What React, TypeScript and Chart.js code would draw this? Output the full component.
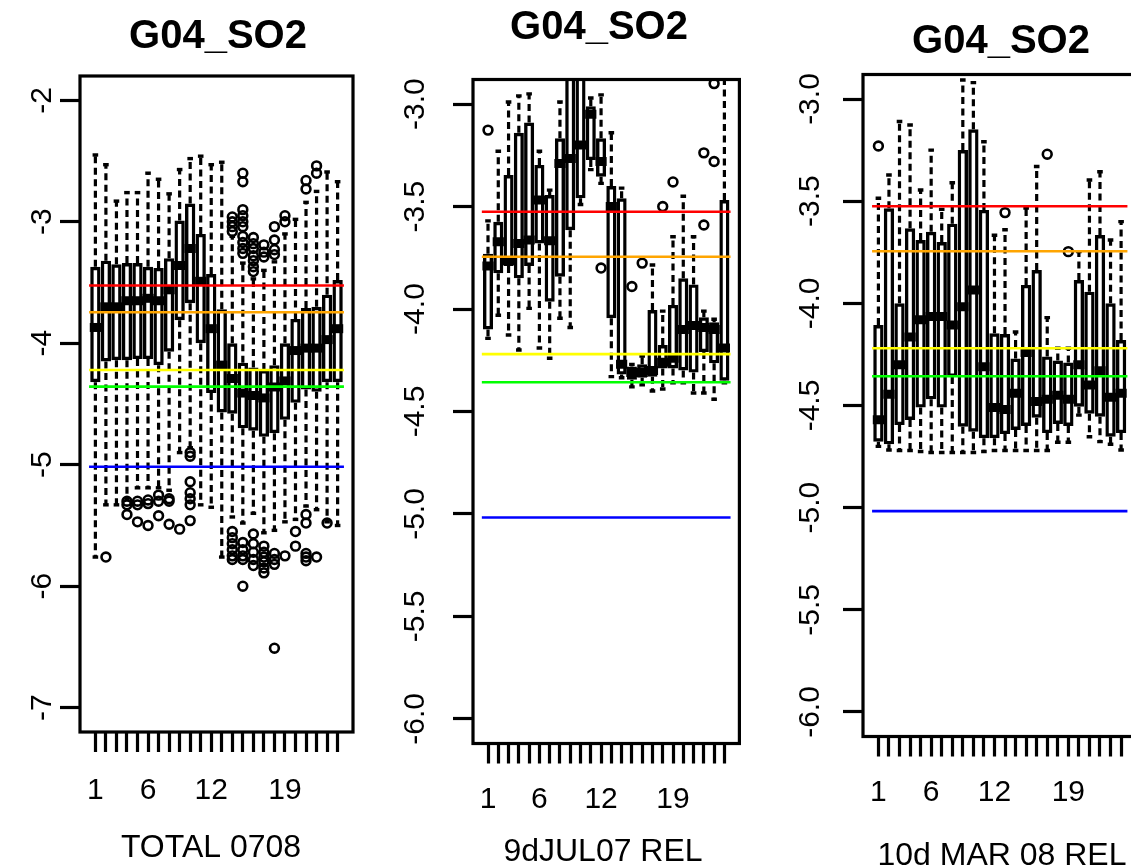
import React, { useEffect, useRef } from 'react';
import { Chart, registerables } from 'chart.js';

Chart.register(...registerables);

const FONT_FAMILY = "'Liberation Sans', Arial, Helvetica, sans-serif";
const CANVAS_H = 880;

// ---------- shared data ----------
const boxIndex = [1, 2, 3, 4, 5, 6, 7, 8, 9, 10, 11, 12, 13, 14, 15, 16, 17, 18, 19, 20, 21, 22, 23, 24];
const xLabelled = [1, 6, 12, 19];
const xLimits = [0.5, 24.5];
const refLevels = [-3.525, -3.745, -4.22, -4.357, -5.017];
const refColors = ['#ff0000', '#ffa500', '#ffff00', '#00ff00', '#0000ff'];
const refSpan = [0.4, 24.6];
const titles = ['G04_SO2', 'G04_SO2', 'G04_SO2'];
const xTitles = ['TOTAL 0708', '9dJUL07 REL', '10d MAR 08 REL'];
const yTicksTotal = [-2, -3, -4, -5, -6, -7];
const yTicksRel = [-3.0, -3.5, -4.0, -4.5, -5.0, -5.5, -6.0];
const ylimTotal = [-7, -2];
const ylimRel = [-6, -3];

// ---------- panel 1: TOTAL 0708 ----------
const totHi = [-2.45, -2.53, -2.83, -2.76, -2.76, -2.6, -2.65, -2.77, -2.57, -2.48, -2.46, -2.53, -2.51, -3.12, -3.34, -3.47, -3.4, -3.33, -3.1, -2.98, -2.84, -2.75, -2.59, -2.67];
const totQ3 = [-3.37, -3.32, -3.35, -3.34, -3.34, -3.37, -3.38, -3.3, -2.99, -2.85, -3.1, -3.43, -3.72, -4.0, -4.16, -4.2, -4.22, -4.18, -4.0, -3.8, -3.71, -3.7, -3.6, -3.48];
const totMed = [-3.87, -3.7, -3.7, -3.65, -3.65, -3.63, -3.65, -3.56, -3.36, -3.22, -3.49, -3.88, -4.18, -4.29, -4.41, -4.43, -4.45, -4.36, -4.31, -4.06, -4.04, -4.04, -3.97, -3.88];
const totQ1 = [-4.32, -4.15, -4.14, -4.14, -4.13, -4.13, -4.18, -4.07, -3.81, -3.67, -4.0, -4.41, -4.57, -4.58, -4.7, -4.72, -4.77, -4.74, -4.63, -4.49, -4.38, -4.4, -4.32, -4.32];
const totLo = [-5.76, -5.33, -5.33, -5.28, -5.19, -5.19, -5.19, -5.21, -4.9, -4.86, -5.33, -5.35, -5.76, -5.43, -5.48, -5.4, -5.56, -5.54, -5.47, -5.45, -5.34, -5.37, -5.47, -5.5];
const totOut = [
  [2, -5.76],
  [4, -5.3], [4, -5.33], [4, -5.41],
  [5, -5.3], [5, -5.33], [5, -5.47],
  [6, -5.29], [6, -5.32], [6, -5.5],
  [7, -5.25], [7, -5.3], [7, -5.42],
  [8, -5.28], [8, -5.3], [8, -5.49],
  [9, -5.53],
  [10, -4.9], [10, -4.93], [10, -5.14], [10, -5.23], [10, -5.28], [10, -5.33], [10, -5.46],
  [14, -2.96], [14, -3.0], [14, -3.04], [14, -3.08], [14, -5.55], [14, -5.6], [14, -5.65], [14, -5.7], [14, -5.75], [14, -5.78],
  [15, -2.6], [15, -2.67], [15, -2.9], [15, -2.95], [15, -3.0], [15, -3.04], [15, -3.12], [15, -3.17], [15, -3.22], [15, -3.26], [15, -5.64], [15, -5.7], [15, -5.75], [15, -5.78], [15, -6.0],
  [16, -3.13], [16, -3.18], [16, -3.22], [16, -3.28], [16, -3.32], [16, -3.37], [16, -3.41], [16, -5.57], [16, -5.65], [16, -5.72], [16, -5.78], [16, -5.83],
  [17, -3.19], [17, -3.25], [17, -3.29], [17, -5.67], [17, -5.72], [17, -5.76], [17, -5.8], [17, -5.85], [17, -5.89],
  [18, -3.04], [18, -3.15], [18, -3.23], [18, -3.27], [18, -5.73], [18, -5.78], [18, -5.82], [18, -6.51],
  [19, -2.95], [19, -3.0], [19, -5.75],
  [20, -5.55], [20, -5.67],
  [21, -2.66], [21, -2.73], [21, -5.41], [21, -5.48], [21, -5.73], [21, -5.76], [21, -5.79],
  [22, -2.54], [22, -2.6], [22, -5.76],
  [23, -5.48],
];

// ---------- panel 2: 9dJUL07 REL ----------
const relHi = [-3.57, -3.23, -2.99, -2.96, -2.95, -3.23, -3.42, -2.99, -2.4, -2.45, -2.97, -2.955, -3.14, -3.41, -4.27, -4.23, -3.785, -4.01, -3.647, -3.45, -3.647, -4.01, -4.05, -2.84];
const relQ3 = [-3.73, -3.574, -3.346, -3.14, -3.09, -3.297, -3.444, -3.167, -2.6, -2.7, -3.01, -3.167, -3.4, -3.46, -4.28, -4.27, -4.005, -4.176, -3.98, -3.85, -3.88, -4.04, -4.065, -3.468];
const relMed = [-3.79, -3.672, -3.765, -3.68, -3.663, -3.468, -3.667, -3.29, -3.265, -3.2, -3.05, -3.28, -3.5, -4.27, -4.31, -4.31, -4.3, -4.26, -4.24, -4.1, -4.08, -4.09, -4.1, -4.19];
const relQ1 = [-4.1, -3.826, -3.79, -3.85, -3.79, -3.68, -3.964, -3.842, -3.615, -3.46, -3.273, -3.354, -4.045, -4.32, -4.345, -4.335, -4.33, -4.29, -4.29, -4.3, -4.31, -4.21, -4.265, -4.35];
const relLo = [-4.143, -4.03, -4.127, -4.2, -3.997, -4.19, -4.24, -4.045, -4.09, -3.49, -3.32, -3.387, -4.33, -4.335, -4.38, -4.37, -4.4, -4.39, -4.36, -4.36, -4.41, -4.41, -4.44, -4.36];
const relOut = [
  [1, -3.127], [12, -3.8], [15, -3.89], [16, -3.776], [18, -3.5], [19, -3.38],
  [22, -3.238], [22, -3.59], [23, -3.28], [23, -2.9],
];

// ---------- panel 3: 10d MAR 08 REL ----------
const marHi = [-3.486, -3.372, -3.11, -3.127, -3.445, -3.25, -3.54, -3.41, -2.907, -2.92, -3.209, -3.667, -3.64, -4.14, -3.534, -3.33, -4.07, -4.22, -4.22, -3.747, -3.396, -3.356, -3.69, -3.6];
const marQ3 = [-4.106, -3.535, -4.0, -3.633, -3.69, -3.65, -3.7, -3.61, -3.25, -3.148, -3.543, -4.147, -4.15, -4.27, -3.91, -3.837, -4.26, -4.28, -4.29, -3.886, -3.943, -3.666, -4.0, -4.18];
const marMed = [-4.57, -4.445, -4.3, -4.165, -4.08, -4.065, -4.065, -4.106, -4.017, -3.935, -4.31, -4.51, -4.52, -4.44, -4.24, -4.48, -4.47, -4.45, -4.47, -4.3, -4.4, -4.33, -4.46, -4.44];
const marQ1 = [-4.677, -4.69, -4.596, -4.571, -4.51, -4.47, -4.51, -4.36, -4.604, -4.628, -4.66, -4.66, -4.64, -4.62, -4.6, -4.56, -4.635, -4.59, -4.6, -4.506, -4.54, -4.555, -4.653, -4.635];
const marLo = [-4.7, -4.718, -4.72, -4.72, -4.725, -4.73, -4.73, -4.73, -4.73, -4.73, -4.725, -4.72, -4.72, -4.72, -4.72, -4.72, -4.72, -4.68, -4.68, -4.547, -4.653, -4.677, -4.69, -4.718];
const marOut = [[1, -3.23], [13, -3.556], [17, -3.27], [19, -3.747]];

// ---------- layout (positions only) ----------
type Area = { left: number; right: number; top: number; bottom: number };
type PanelSpec = {
  title: string; xTitle: string;
  hi: number[]; q3: number[]; med: number[]; q1: number[]; lo: number[]; out: number[][];
  yTicks: number[]; decimals: number; ylim: number[];
  canvasLeft: number; canvasWidth: number; area: Area;
  titleX: number; titleY: number; yLabelX: number; xLabelY: number; xTitleX: number; xTitleY: number;
};

const specs: PanelSpec[] = [
  {
    title: titles[0], xTitle: xTitles[0],
    hi: totHi, q3: totQ3, med: totMed, q1: totQ1, lo: totLo, out: totOut,
    yTicks: yTicksTotal, decimals: 0, ylim: ylimTotal,
    canvasLeft: 0, canvasWidth: 377, area: { left: 80, right: 353, top: 76, bottom: 732 },
    titleX: 218, titleY: 37, yLabelX: 43, xLabelY: 791, xTitleX: 211, xTitleY: 848,
  },
  {
    title: titles[1], xTitle: xTitles[1],
    hi: relHi, q3: relQ3, med: relMed, q1: relQ1, lo: relLo, out: relOut,
    yTicks: yTicksRel, decimals: 1, ylim: ylimRel,
    canvasLeft: 377, canvasWidth: 377, area: { left: 473, right: 743, top: 79.5, bottom: 743.5 },
    titleX: 599, titleY: 28, yLabelX: 416, xLabelY: 800, xTitleX: 603, xTitleY: 852,
  },
  {
    title: titles[2], xTitle: xTitles[2],
    hi: marHi, q3: marQ3, med: marMed, q1: marQ1, lo: marLo, out: marOut,
    yTicks: yTicksRel, decimals: 1, ylim: ylimRel,
    canvasLeft: 754, canvasWidth: 400, area: { left: 863, right: 1136.5, top: 74.5, bottom: 736.5 },
    titleX: 1001, titleY: 42, yLabelX: 811, xLabelY: 793, xTitleX: 1002, xTitleY: 856,
  },
];

const fmtTick = (v: number, decimals: number) => Number(v).toFixed(decimals);

function textWidth(text: string, size: number) {
  const ctx = document.createElement('canvas').getContext('2d')!;
  ctx.font = `${size}px ${FONT_FAMILY}`;
  return ctx.measureText(text).width;
}

function extendRange(r: number[]) {
  const e = (r[1] - r[0]) * 0.04;
  return [r[0] - e, r[1] + e];
}

function makeConfig(s: PanelSpec) {
  const [xMin, xMax] = extendRange(xLimits);
  const [yMin, yMax] = extendRange(s.ylim);
  const tickLen = 20;
  const tickSize = 30;
  const xTitleSize = 32;
  const widest = Math.max(...s.yTicks.map((v) => textWidth(fmtTick(v, s.decimals), tickSize)));
  const yPad = s.area.left - s.yLabelX - tickLen - widest / 2;
  const xPad = s.xLabelY - s.area.bottom - tickLen - (tickSize * 1.2) / 2;
  const localRight = s.area.right - s.canvasLeft;

  const boxes = boxIndex.map((x, i) => ({ x, y: [s.q1[i], s.q3[i]] }));
  const medians = boxIndex.map((x, i) => ({ x, y: s.med[i] }));
  const caps = boxIndex.flatMap((x, i) => [{ x, y: s.hi[i] }, { x, y: s.lo[i] }]);
  const whiskers = boxIndex.flatMap((x, i) => [
    { x, y: s.q3[i] }, { x, y: s.hi[i] }, { x, y: null },
    { x, y: s.q1[i] }, { x, y: s.lo[i] }, { x, y: null },
  ]);
  const outliers = s.out.map(([x, y]) => ({ x, y }));

  const datasets: any[] = [
    ...refLevels.map((lvl, k) => ({
      type: 'line',
      data: refSpan.map((x) => ({ x, y: lvl })),
      borderColor: refColors[k],
      borderWidth: 2.6,
      pointRadius: 0,
      order: 0,
      clip: 0,
    })),
    {
      type: 'scatter', data: medians, pointStyle: 'line', pointRadius: 5.6,
      pointBorderWidth: 9, pointBorderColor: '#000', pointBackgroundColor: '#000', order: 1, clip: 0,
    },
    {
      type: 'bar', data: boxes, backgroundColor: 'rgba(0,0,0,0)', borderColor: '#000', borderWidth: 3.4,
      borderSkipped: false, categoryPercentage: 0.98, barPercentage: 1, order: 2, clip: 0,
    },
    {
      type: 'scatter', data: caps, pointStyle: 'line', pointRadius: 2.8,
      pointBorderWidth: 3.4, pointBorderColor: '#000', order: 3, clip: 0,
    },
    {
      type: 'line', data: whiskers, borderColor: '#000', borderWidth: 3.2, borderDash: [7, 4.5],
      pointRadius: 0, spanGaps: false, order: 4, clip: 0,
    },
    {
      type: 'scatter', data: outliers, pointStyle: 'circle', pointRadius: 4.4,
      pointBorderWidth: 2.6, pointBorderColor: '#000', pointBackgroundColor: 'rgba(0,0,0,0)', order: 5, clip: 0,
    },
  ];

  const decor = {
    id: 'decor',
    afterDraw(chart: any) {
      const { ctx, chartArea: a } = chart;
      ctx.save();
      ctx.strokeStyle = '#000';
      ctx.lineWidth = 3.2;
      ctx.strokeRect(a.left, a.top, a.right - a.left, a.bottom - a.top);
      ctx.fillStyle = '#000';
      ctx.textAlign = 'center';
      ctx.textBaseline = 'middle';
      ctx.font = `bold 40px ${FONT_FAMILY}`;
      ctx.fillText(s.title, s.titleX - s.canvasLeft, s.titleY);
      ctx.font = `${xTitleSize}px ${FONT_FAMILY}`;
      ctx.fillText(s.xTitle, s.xTitleX - s.canvasLeft, s.xTitleY);
      ctx.restore();
    },
  };

  const gridOpts = {
    drawOnChartArea: false, drawTicks: true, tickLength: tickLen, tickWidth: 3.2, tickColor: '#000', offset: false,
  };

  return {
    type: 'scatter',
    data: { datasets },
    plugins: [decor],
    options: {
      responsive: false,
      animation: false,
      events: [],
      layout: { padding: { left: 0, right: s.canvasWidth - localRight, top: s.area.top, bottom: 0 } },
      plugins: { legend: { display: false }, tooltip: { enabled: false }, title: { display: false } },
      scales: {
        x: {
          type: 'linear', position: 'bottom', min: xMin, max: xMax, offset: false,
          afterBuildTicks: (sc: any) => { sc.ticks = boxIndex.map((v) => ({ value: v })); },
          afterFit: (sc: any) => { sc.height = CANVAS_H - s.area.bottom; },
          ticks: {
            autoSkip: false, maxRotation: 0, minRotation: 0, padding: xPad, color: '#000',
            font: { family: FONT_FAMILY, size: tickSize },
            callback: (v: number) => (xLabelled.includes(v) ? String(v) : ''),
          },
          grid: gridOpts,
          border: { display: false },
          title: { display: false },
        },
        y: {
          type: 'linear', position: 'left', min: yMin, max: yMax, beginAtZero: false,
          afterBuildTicks: (sc: any) => { sc.ticks = s.yTicks.map((v) => ({ value: v })); },
          afterFit: (sc: any) => { sc.width = s.area.left - s.canvasLeft; },
          ticks: {
            autoSkip: false, minRotation: 90, maxRotation: 90, crossAlign: 'center', padding: yPad, color: '#000',
            font: { family: FONT_FAMILY, size: tickSize },
            callback: (v: number) => fmtTick(v, s.decimals),
          },
          grid: gridOpts,
          border: { display: false },
        },
      },
    },
  };
}

function BoxPanel({ spec }: { spec: PanelSpec }) {
  const ref = useRef<HTMLCanvasElement | null>(null);
  useEffect(() => {
    if (!ref.current) return;
    const chart = new Chart(ref.current, makeConfig(spec) as any);
    return () => chart.destroy();
  }, [spec]);
  return (
    <canvas
      ref={ref}
      width={spec.canvasWidth}
      height={CANVAS_H}
      style={{ position: 'absolute', left: spec.canvasLeft, top: 0, width: spec.canvasWidth, height: CANVAS_H }}
    />
  );
}

export default function App() {
  return (
    <div style={{ position: 'fixed', left: 0, top: 0, width: 1131, height: 868, overflow: 'hidden', background: '#ffffff' }}>
      {specs.map((s, i) => (
        <BoxPanel key={i} spec={s} />
      ))}
    </div>
  );
}
